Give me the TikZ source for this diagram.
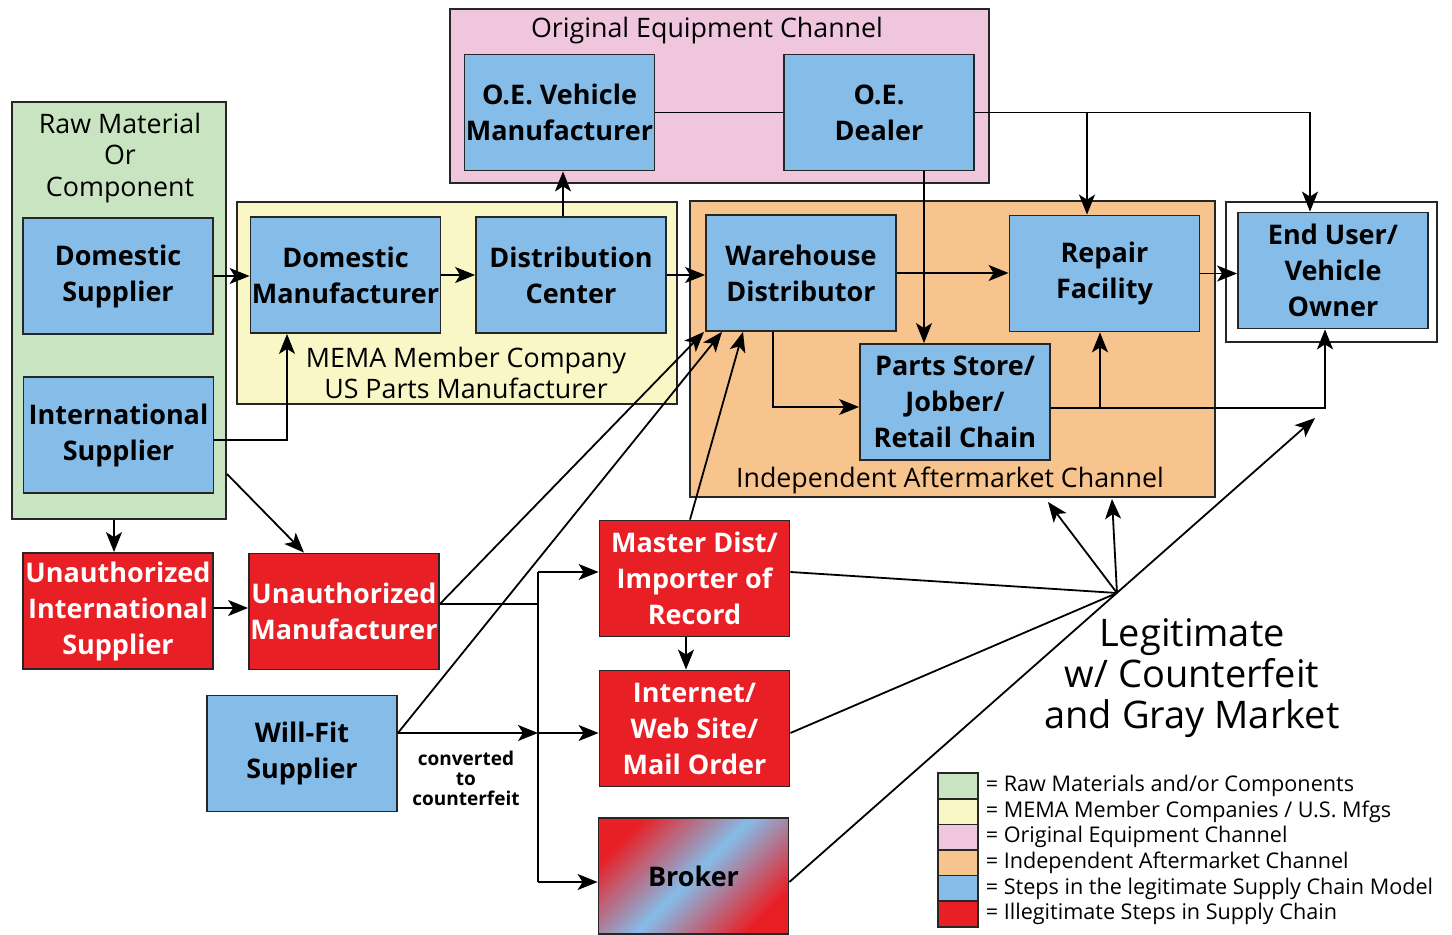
\documentclass[tikz,border=0pt]{standalone}
\usepackage{fontspec}
\setmainfont{Open Sans}
\usetikzlibrary{arrows.meta}

\definecolor{rawgreen}{RGB}{200,228,192}
\definecolor{memayellow}{RGB}{250,247,198}
\definecolor{oepink}{RGB}{240,198,222}
\definecolor{iaorange}{RGB}{248,196,142}
\definecolor{stepblue}{RGB}{133,188,232}
\definecolor{illred}{RGB}{232,32,38}

\newcommand{\boxfont}{\bfseries\fontsize{13.5}{18}\selectfont}
\newcommand{\grpfont}{\fontsize{13.4}{15.8}\selectfont}
\newcommand{\legfont}{\fontsize{10.8}{12}\selectfont}

\tikzset{
  stepbox/.style={draw=black!85, line width=0.9pt, fill=stepblue, minimum width=95pt, minimum height=58pt, inner sep=0pt, align=center, font=\boxfont},
  illbox/.style={stepbox, fill=illred, text=white},
  groupbox/.style={draw=black!85, line width=1pt, inner sep=0pt},
  swatch/.style={draw=black!85, line width=0.8pt, minimum width=20pt, minimum height=12.8pt, inner sep=0pt},
  flow/.style={line width=0.9pt, -{Stealth[length=10pt,width=8pt,inset=2.5pt]}},
  link/.style={line width=0.9pt}
}

\begin{document}
\begin{tikzpicture}[x=0.5pt,y=0.5pt,yscale=-1]
\useasboundingbox (0,0) rectangle (1452,935);

%Shape: group boxes
\draw (119,310.5) node (rawgrp) [groupbox, fill=rawgreen, minimum width=107pt, minimum height=208.5pt] {};
\draw (457,303) node (memagrp) [groupbox, fill=memayellow, minimum width=220pt, minimum height=101pt] {};
\draw (719.5,96) node (oegrp) [groupbox, fill=oepink, minimum width=269.5pt, minimum height=87pt] {};
\draw (952.5,349) node (iagrp) [groupbox, fill=iaorange, minimum width=262.5pt, minimum height=148pt] {};
\draw (1331.5,272) node (usergrp) [groupbox, fill=white, minimum width=105.5pt, minimum height=70pt] {};

% Text Node
\draw (120,158) node (rawlbl) [align=center, font=\grpfont] {Raw Material\\Or\\Component};
\draw (466,373) node (memalbl) [align=center, font=\grpfont] {MEMA Member Company\\US Parts Manufacturer};
\draw (707,31) node (oelbl) [font=\grpfont] {Original Equipment Channel};
\draw (950,480) node (ialbl) [font=\grpfont] {Independent Aftermarket Channel};

%Shape: legitimate steps
\draw (118,276) node (domsup) [stepbox] {Domestic\\Supplier};
\draw (118.5,435) node (intsup) [stepbox] {International\\Supplier};
\draw (345.5,275) node (dommfr) [stepbox] {Domestic\\Manufacturer};
\draw (571,275) node (distctr) [stepbox] {Distribution\\Center};
\draw (559.5,112.5) node (oevm) [stepbox] {O.E. Vehicle\\Manufacturer};
\draw (879,112.5) node (oedlr) [stepbox] {O.E.\\Dealer};
\draw (801,273) node (whdist) [stepbox] {Warehouse\\Distributor};
\draw (1104.5,273.5) node (repair) [stepbox] {Repair\\Facility};
\draw (955,402) node (parts) [stepbox] {Parts Store/\\Jobber/\\Retail Chain};
\draw (1333,270.5) node (enduser) [stepbox] {End User/\\Vehicle\\Owner};
\draw (302,753.5) node (willfit) [stepbox] {Will-Fit\\Supplier};

%Shape: illegitimate steps
\draw (118,611) node (uis) [illbox] {Unauthorized\\International\\Supplier};
\draw (344,611.5) node (umfr) [illbox] {Unauthorized\\Manufacturer};
\draw (694.5,578.5) node (master) [illbox] {Master Dist/\\Importer of\\Record};
\draw (694.5,728.5) node (internet) [illbox] {Internet/\\Web Site/\\Mail Order};
\draw (693.5,876) node (broker) [stepbox, top color=illred, bottom color=illred, middle color=stepblue, shading angle=45, text=black] {Broker};

%Coordinates for the bus and the fan
\coordinate (busA) at (538,572);
\coordinate (busB) at (538,733);
\coordinate (busC) at (538,882);
\coordinate (conv) at (1117,593);
\coordinate (broktip) at (1315,418);
\coordinate (iaA) at (1048,502);
\coordinate (iaB) at (1112,499);

%Straight Lines: legitimate chain
\draw [flow] (domsup.east) -- (domsup.east -| dommfr.west);
\draw [flow] (dommfr.east) -- (dommfr.east -| distctr.west);
\draw [flow] (distctr.east) -- (distctr.east -| whdist.west);
\draw [flow] (distctr.north -| 563,0) -- (oevm.south -| 563,0);
\draw [link] (oevm.east) -- (oevm.east -| oedlr.west);
\draw [flow] (oedlr.east) -| (enduser.north -| 1310,0);
\draw [flow] (oedlr.east -| 1087,0) -- (repair.north -| 1087,0);
\draw [flow] (oedlr.south -| 924,0) -- (parts.north -| 924,0);
\draw [flow] (whdist.east) -- (whdist.east -| repair.west);
\draw [flow] (repair.east) -- (repair.east -| enduser.west);
\draw [flow] (whdist.south -| 773,0) |- (parts.west |- 0,407);
\draw [flow] (parts.east |- 0,408) -| (enduser.south -| 1325,0);
\draw [flow] (parts.east |- 0,408) -| (repair.south -| 1100,0);
\draw [flow] (intsup.east |- 0,440) -| (dommfr.south -| 287,0);

%Straight Lines: unauthorized paths
\draw [flow] (rawgrp.south -| 114,0) -- (uis.north -| 114,0);
\draw [flow] (rawgrp.east |- 0,474) -- (umfr.north -| 304,0);
\draw [flow] (uis.east |- 0,608) -- (umfr.west |- 0,608);
\draw [link] (umfr.east |- 0,604) -- (busA |- 0,604);
\draw [link] (busA) -- (busC);
\draw [flow] (busA) -- (busA -| master.west);
\draw [flow] (busB) -- (busB -| internet.west);
\draw [flow] (busC) -- (busC -| broker.west);
\draw [flow] (willfit.east |- busB) -- (busB);
\draw [flow] (master.south -| 686,0) -- (internet.north -| 686,0);
\draw [flow] (umfr.east |- 0,604) -- (whdist.south -| 704,0);
\draw [flow] (willfit.east |- busB) -- (whdist.south -| 722,0);
\draw [flow] (master.north -| 690,0) -- (whdist.south -| 743,0);

%Straight Lines: fan into the legitimate chain
\draw [link] (master.east |- busA) -- (conv);
\draw [link] (internet.east |- busB) -- (conv);
\draw [flow] (broker.east |- busC) -- (broktip);
\draw [flow] (conv) -- (iaA);
\draw [flow] (conv) -- (iaB);

% Text Node
\draw (466,778) node (convlbl) [align=center, font=\bfseries\fontsize{9.5}{10}\selectfont] {converted\\to\\counterfeit};
\draw (1192,678) node (legitlbl) [align=center, font=\fontsize{19}{20.5}\selectfont] {Legitimate\\w/ Counterfeit\\and Gray Market};

%Shape: legend
\draw (958,786) node (swraw) [swatch, fill=rawgreen] {};
\draw (958,811.6) node (swmema) [swatch, fill=memayellow] {};
\draw (958,837.2) node (swoe) [swatch, fill=oepink] {};
\draw (958,862.8) node (swia) [swatch, fill=iaorange] {};
\draw (958,888.4) node (swstep) [swatch, fill=stepblue] {};
\draw (958,914) node (swill) [swatch, fill=illred] {};
\draw (swraw.east) node (lgraw) [anchor=west, font=\legfont] {= Raw Materials and/or Components};
\draw (swmema.east) node (lgmema) [anchor=west, font=\legfont] {= MEMA Member Companies / U.S. Mfgs};
\draw (swoe.east) node (lgoe) [anchor=west, font=\legfont] {= Original Equipment Channel};
\draw (swia.east) node (lgia) [anchor=west, font=\legfont] {= Independent Aftermarket Channel};
\draw (swstep.east) node (lgstep) [anchor=west, font=\legfont] {= Steps in the legitimate Supply Chain Model};
\draw (swill.east) node (lgill) [anchor=west, font=\legfont] {= Illegitimate Steps in Supply Chain};

\end{tikzpicture}
\end{document}
